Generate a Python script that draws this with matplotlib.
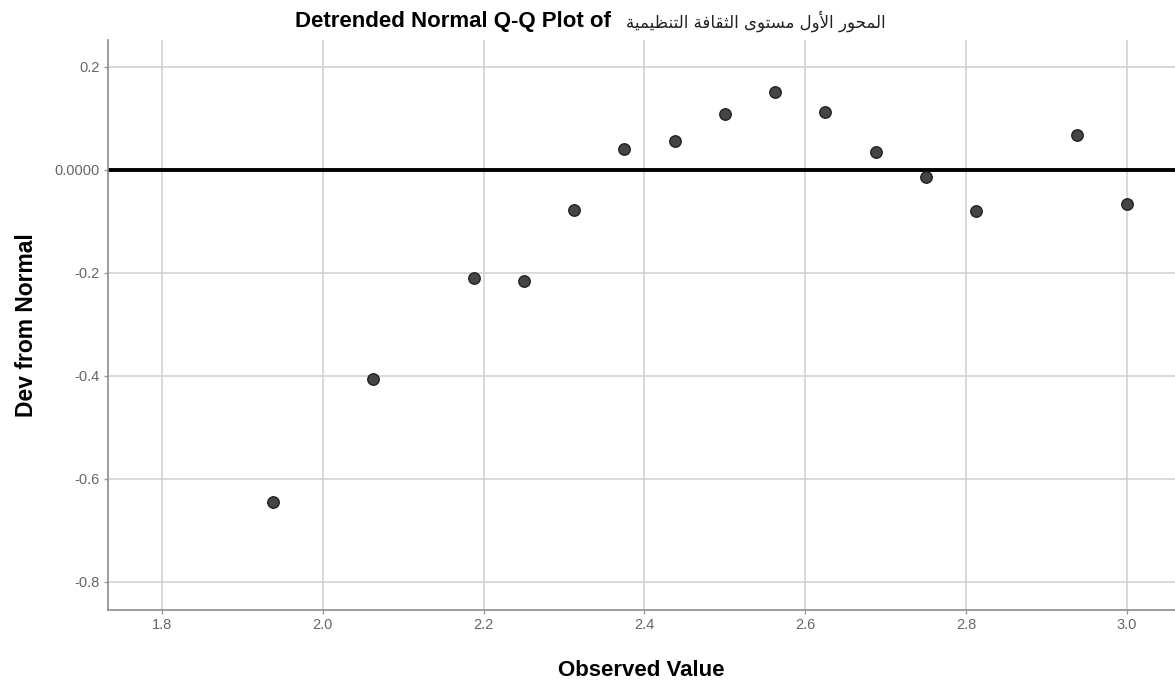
import matplotlib
matplotlib.use("Agg")
import matplotlib.pyplot as plt

# Detrended normal Q-Q points
observed = [1.9375, 2.0625, 2.1875, 2.25, 2.3125, 2.375, 2.4375, 2.5,
            2.5625, 2.625, 2.6875, 2.75, 2.8125, 2.9375, 3.0]
deviation = [-0.644, -0.406, -0.210, -0.216, -0.078, 0.041, 0.056, 0.109,
             0.151, 0.113, 0.035, -0.014, -0.080, 0.068, -0.066]

x_ticks = [1.8, 2.0, 2.2, 2.4, 2.6, 2.8, 3.0]
x_tick_labels = ["1.8", "2.0", "2.2", "2.4", "2.6", "2.8", "3.0"]
y_ticks = [0.2, 0.0, -0.2, -0.4, -0.6, -0.8]
y_tick_labels = ["0.2", "0.0000", "-0.2", "-0.4", "-0.6", "-0.8"]

title_en = "Detrended Normal Q-Q Plot of"
title_ar = "المحور الأول مستوى الثقافة التنظيمية"

# matplotlib has no Arabic shaping, so pick the presentation forms by hand
# (isolated, final, initial, medial)
FORMS = {
    'ا': ('\uFE8D', '\uFE8E', None, None),
    'أ': ('\uFE83', '\uFE84', None, None),
    'ل': ('\uFEDD', '\uFEDE', '\uFEDF', '\uFEE0'),
    'م': ('\uFEE1', '\uFEE2', '\uFEE3', '\uFEE4'),
    'ح': ('\uFEA1', '\uFEA2', '\uFEA3', '\uFEA4'),
    'و': ('\uFEED', '\uFEEE', None, None),
    'ر': ('\uFEAD', '\uFEAE', None, None),
    'س': ('\uFEB1', '\uFEB2', '\uFEB3', '\uFEB4'),
    'ت': ('\uFE95', '\uFE96', '\uFE97', '\uFE98'),
    'ى': ('\uFEEF', '\uFEF0', None, None),
    'ث': ('\uFE99', '\uFE9A', '\uFE9B', '\uFE9C'),
    'ق': ('\uFED5', '\uFED6', '\uFED7', '\uFED8'),
    'ف': ('\uFED1', '\uFED2', '\uFED3', '\uFED4'),
    'ة': ('\uFE93', '\uFE94', None, None),
    'ن': ('\uFEE5', '\uFEE6', '\uFEE7', '\uFEE8'),
    'ظ': ('\uFEC5', '\uFEC6', '\uFEC7', '\uFEC8'),
    'ي': ('\uFEF1', '\uFEF2', '\uFEF3', '\uFEF4'),
}
LAM_ALEF = {'ا': ('\uFEFB', '\uFEFC'), 'أ': ('\uFEF7', '\uFEF8')}


def shape_word(word):
    out = []
    joined = False
    i = 0
    while i < len(word):
        ch = word[i]
        nxt = word[i + 1] if i + 1 < len(word) else None
        if ch == 'ل' and nxt in LAM_ALEF:
            out.append(LAM_ALEF[nxt][1 if joined else 0])
            joined = False
            i += 2
            continue
        iso, fin, ini, med = FORMS[ch]
        joins_next = ini is not None and nxt in FORMS
        if joined and joins_next:
            out.append(med)
        elif joined:
            out.append(fin)
        elif joins_next:
            out.append(ini)
        else:
            out.append(iso)
        joined = joins_next
        i += 1
    return ''.join(out)


def arabic_visual(text):
    return ' '.join(shape_word(w) for w in text.split())[::-1]


plt.rcParams['font.family'] = ['Liberation Sans', 'DejaVu Sans']

fig = plt.figure(figsize=(11.75, 6.84), dpi=100)
ax = fig.add_axes([108 / 1175, 1 - 610 / 684, 1 - 108 / 1175, 570 / 684])

ax.set_xlim(1.7329, 3.0597)
ax.set_ylim(-0.8544, 0.2524)

ax.grid(True, color='#cfcfcf', linewidth=1.1)
ax.set_axisbelow(True)
ax.axhline(0, color='black', linewidth=2.8, zorder=2)

ax.scatter(observed, deviation, s=68, color='#454545', edgecolors='#222222',
           linewidths=1.0, zorder=3)

ax.set_xticks(x_ticks)
ax.set_xticklabels(x_tick_labels)
ax.set_yticks(y_ticks)
ax.set_yticklabels(y_tick_labels)
ax.tick_params(axis='both', length=3, width=1, color='#9a9a9a',
               labelsize=10.5, labelcolor='#666666', pad=3)

for side in ('top', 'right'):
    ax.spines[side].set_visible(False)
for side in ('left', 'bottom'):
    ax.spines[side].set_color('#8c8c8c')
    ax.spines[side].set_linewidth(1.2)

ax.set_xlabel("Observed Value", fontsize=16, fontweight='bold', labelpad=20)
ax.set_ylabel("Dev from Normal", fontsize=16.5, fontweight='bold', labelpad=12)

fig.text(611 / 1175, 1 - 21 / 684, title_en, ha='right', va='center',
         fontsize=16, fontweight='bold')
fig.text(626 / 1175, 1 - 21 / 684, arabic_visual(title_ar), ha='left',
         va='center', fontsize=12, family=['DejaVu Sans'], color='#222222')

fig.savefig("out.png", dpi=100)
